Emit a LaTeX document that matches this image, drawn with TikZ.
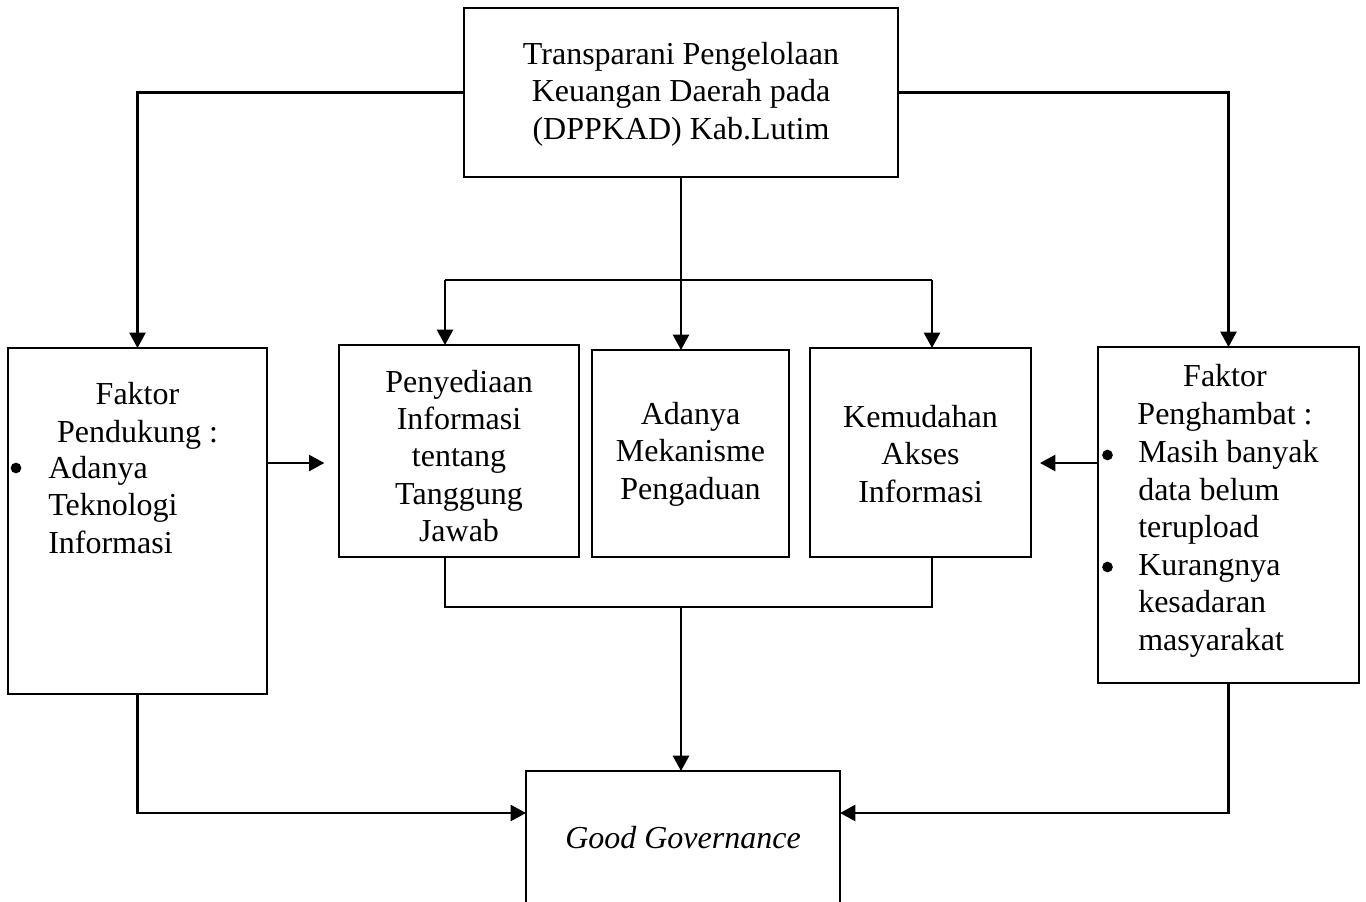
\documentclass[tikz,border=0pt]{standalone}
\usepackage{fontspec}
\setmainfont{Liberation Serif}
\usetikzlibrary{arrows.meta}
\begin{document}
\begin{tikzpicture}[x=0.75pt,y=-0.75pt,
  box/.style={draw,line width=1.5pt,inner sep=0pt,outer sep=0pt},
  txt/.style={inner sep=0pt,font=\fontsize{24pt}{28.1pt}\selectfont},
  bul/.style={circle,fill,inner sep=0pt,minimum size=8pt},
  ln/.style={line width=1.8pt},
  arr/.style={line width=1.8pt,-{Triangle[length=11.5pt,width=12pt]}}]
\useasboundingbox (0,0) rectangle (1366,901);
\clip (0,0) rectangle (1366,901);
% boxes
\node[box,minimum width=325.5pt,minimum height=126.75pt] (top) at (681,92.5) {};
\node[box,minimum width=194.25pt,minimum height=259.5pt] (lbox) at (137.5,521) {};
\node[box,minimum width=195.75pt,minimum height=252pt] (rbox) at (1228.5,515) {};
\node[box,minimum width=180pt,minimum height=159pt] (b1) at (459,451) {};
\node[box,minimum width=147.75pt,minimum height=155.25pt] (b2) at (690.5,453.5) {};
\node[box,minimum width=165.75pt,minimum height=156.75pt] (b3) at (920.5,452.5) {};
\node[box,minimum width=235.5pt,minimum height=135pt] (gg) at (683,861) {};
% texts
\node[txt,align=center] (ttop) at (681,94) {Transparani Pengelolaan\\Keuangan Daerah pada\\(DPPKAD) Kab.Lutim};
\node[txt,align=center] (tl1) at (137.5,416) {Faktor\\Pendukung :};
\node[txt,align=left,anchor=west] (tl2) at (48,505) {Adanya\\Teknologi\\Informasi};
\node[bul] (bl1) at (16,468) {};
\node[txt,align=center] (tr1) at (1225,398) {Faktor\\Penghambat :};
\node[txt,align=left,anchor=west] (tr2) at (1138,549) {Masih banyak\\data belum\\terupload\\Kurangnya\\kesadaran\\masyarakat};
\node[bul] (br1) at (1107.5,455) {};
\node[bul] (br2) at (1107.5,567) {};
\node[txt,align=center] (t1) at (459,456) {Penyediaan\\Informasi\\tentang\\Tanggung\\Jawab};
\node[txt,align=center] (t2) at (690.5,454) {Adanya\\Mekanisme\\Pengaduan};
\node[txt,align=center] (t3) at (920.5,454) {Kemudahan\\Akses\\Informasi};
\node[txt,font=\fontsize{24pt}{28.1pt}\selectfont\itshape] (tg) at (683,838) {Good Governance};
% coordinates
\coordinate (j) at (681,280);
\coordinate (cl) at (445,280);
\coordinate (cr) at (932,280);
\coordinate (m) at (681,607);
% connectors
\draw[arr] (top.west) -| (lbox.north);
\draw[arr] (top.east) -| (rbox.north);
\draw[arr] (top.south -| j) -- (b2.north -| j);
\draw[ln] (cl) -- (cr);
\draw[arr] (cl) -- (cl |- b1.north);
\draw[arr] (cr) -- (cr |- b3.north);
\draw[ln] (cl |- b1.south) -- (cl |- m) -- (cr |- m) -- (cr |- b3.south);
\draw[arr] (m) -- (m |- gg.north);
\draw[arr,shorten >=11pt] ([yshift=-86.25pt]lbox.north east) -- ([yshift=-86.25pt]lbox.north east -| b1.west);
\draw[arr,shorten >=6.75pt] ([yshift=-87pt]rbox.north west) -- ([yshift=-87pt]rbox.north west -| b3.east);
\draw[arr] (lbox.south) |- ([yshift=-31.5pt]gg.north west);
\draw[arr] (rbox.south) |- ([yshift=-31.5pt]gg.north east);
\end{tikzpicture}
\end{document}
